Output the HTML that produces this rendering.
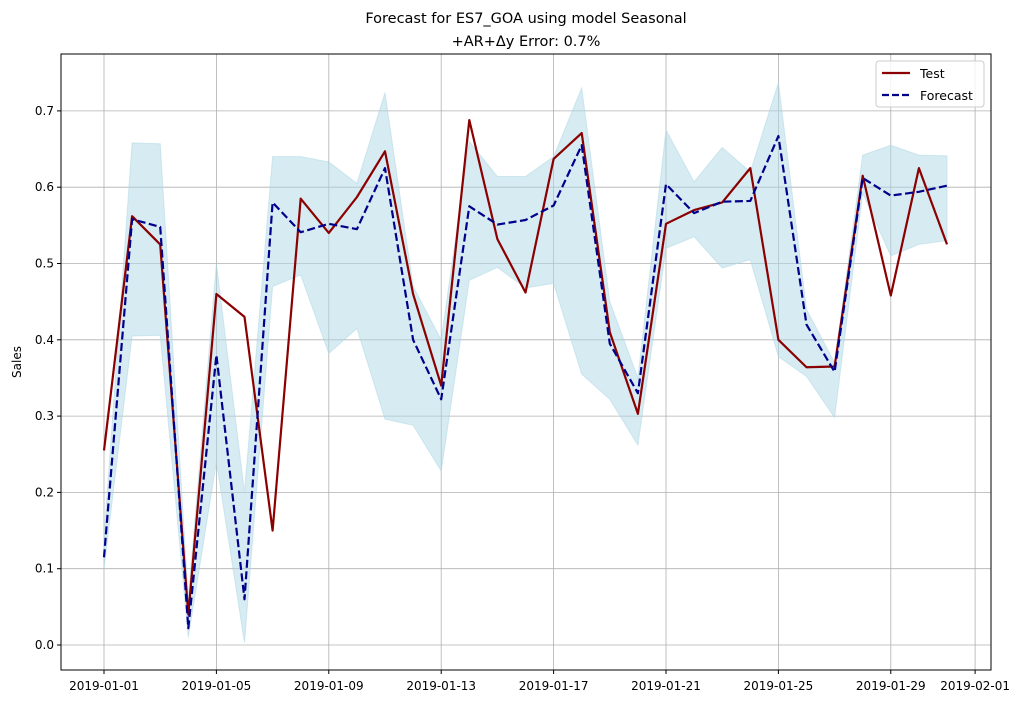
<!DOCTYPE html>
<html><head><meta charset="utf-8">
<style>
html,body{margin:0;padding:0;background:#fff;}
svg{display:block;font-family:"DejaVu Sans","Liberation Sans",sans-serif;}
</style></head>
<body>
<svg id="chart" width="1027" height="704" viewBox="0 0 1027 704" xmlns="http://www.w3.org/2000/svg">
<rect width="1027" height="704" fill="#fff"/>
<text x="526" y="23" text-anchor="middle" font-size="14.5">Forecast for ES7_GOA using model Seasonal</text>
<text x="526" y="46" text-anchor="middle" font-size="14.5">+AR+Δy Error: 0.7%</text>
<g id="grid"></g>
<g id="band"></g>
<g id="lines"></g>
<rect x="61" y="54" width="930" height="616" fill="none" stroke="#000" stroke-width="1"/>
<g id="axes"></g>
<text transform="translate(21,362) rotate(-90)" text-anchor="middle" font-size="12">Sales</text>
<g>
<rect x="876" y="61" width="108" height="46" rx="3" fill="#fff" fill-opacity="0.8" stroke="#ccc"/>
<line x1="882" y1="73" x2="910" y2="73" stroke="#8b0000" stroke-width="2.2"/>
<text x="920" y="78" font-size="12.5">Test</text>
<line x1="882" y1="95" x2="910" y2="95" stroke="#00008b" stroke-width="2.2" stroke-dasharray="7,3"/>
<text x="920" y="100" font-size="12.5">Forecast</text>
</g>
</svg>
<script>
const testValues=[0.255,0.562,0.525,0.04,0.46,0.43,0.15,0.585,0.54,0.587,0.647,0.46,0.34,0.688,0.532,0.462,0.637,0.671,0.41,0.303,0.552,0.57,0.58,0.625,0.40,0.364,0.365,0.615,0.458,0.625,0.525];
const forecastValues=[0.115,0.558,0.548,0.022,0.38,0.06,0.58,0.541,0.552,0.545,0.625,0.40,0.322,0.575,0.551,0.557,0.576,0.655,0.395,0.33,0.604,0.566,0.581,0.582,0.667,0.42,0.358,0.612,0.589,0.594,0.602];
const upperValues=[0.14,0.658,0.657,0.06,0.50,0.2,0.64,0.64,0.633,0.605,0.724,0.47,0.40,0.66,0.614,0.614,0.64,0.73,0.45,0.35,0.675,0.607,0.652,0.62,0.737,0.44,0.37,0.642,0.655,0.642,0.641];
const lowerValues=[0.10,0.405,0.406,0.01,0.24,0.003,0.47,0.485,0.382,0.415,0.296,0.288,0.228,0.478,0.495,0.468,0.474,0.355,0.322,0.262,0.52,0.535,0.494,0.505,0.378,0.352,0.298,0.592,0.51,0.525,0.53];
const yTicks=[0,0.1,0.2,0.3,0.4,0.5,0.6,0.7];
const xTickDays=[0,4,8,12,16,20,24,28,31];
const xTickLabels=["2019-01-01","2019-01-05","2019-01-09","2019-01-13","2019-01-17","2019-01-21","2019-01-25","2019-01-29","2019-02-01"];
const NS="http://www.w3.org/2000/svg";
const xs=d=>104+d*28.1;
const ys=v=>645-v*763;
function mk(tag,attrs,parent){const e=document.createElementNS(NS,tag);for(const k in attrs)e.setAttribute(k,attrs[k]);parent.appendChild(e);return e;}
const grid=document.getElementById('grid'),axes=document.getElementById('axes'),band=document.getElementById('band'),lines=document.getElementById('lines');
yTicks.forEach(t=>{const y=ys(t);
 const g=mk('line',{x1:61,x2:991,y1:y,y2:y,stroke:'#b0b0b0','stroke-width':0.8},grid);
 
 
 mk('line',{x1:57,x2:61,y1:y,y2:y,stroke:'#000'},axes);
 const tx=mk('text',{x:54,y:y+4,'text-anchor':'end','font-size':12},axes);tx.textContent=t.toFixed(1);
 
 
});
xTickDays.forEach((d,i)=>{const x=xs(d);
 const g=mk('line',{x1:x,x2:x,y1:54,y2:670,stroke:'#b0b0b0','stroke-width':0.8},grid);
 
 
 mk('line',{x1:x,x2:x,y1:670,y2:674,stroke:'#000'},axes);
 const tx=mk('text',{x:x,y:690,'text-anchor':'middle','font-size':12},axes);tx.textContent=xTickLabels[i];
 
 
});
let bp=upperValues.map((v,i)=>xs(i)+','+ys(v));
for(let i=lowerValues.length-1;i>=0;i--)bp.push(xs(i)+','+ys(lowerValues[i]));
const poly=mk('polygon',{points:bp.join(' '),fill:'#add8e6','fill-opacity':0.5,stroke:'#add8e6','stroke-opacity':0.5},band);


const tl=mk('polyline',{points:testValues.map((v,i)=>xs(i)+','+ys(v)).join(' '),fill:'none',stroke:'#8b0000','stroke-width':2.2,'stroke-linejoin':'round'},lines);


const fl=mk('polyline',{points:forecastValues.map((v,i)=>xs(i)+','+ys(v)).join(' '),fill:'none',stroke:'#00008b','stroke-width':2.2,'stroke-dasharray':'8,3.5','stroke-linejoin':'round'},lines);


</script>
</body></html>
